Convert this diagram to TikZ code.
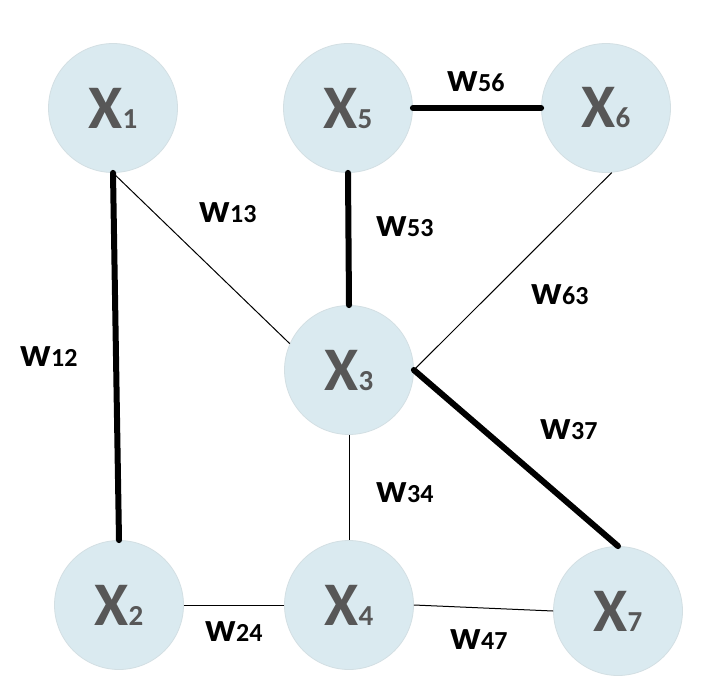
\documentclass[tikz,border=0pt]{standalone}
\usepackage{fontspec}
\setmainfont{Carlito}
\definecolor{nodefill}{HTML}{DAEAF0}
\definecolor{nodeline}{HTML}{D3DFE3}
\definecolor{xtext}{HTML}{575757}
\newcommand{\xlab}[1]{\textbf{{\fontsize{62}{64}\selectfont X}{\fontsize{29}{31}\selectfont #1}}}
\newcommand{\wlab}[1]{\textbf{{\fontsize{41}{43}\selectfont w}{\fontsize{26}{28}\selectfont #1}}}
\begin{document}
\begin{tikzpicture}[x=1pt,y=-1pt,
  vnode/.style={circle,minimum size=129pt,inner sep=0pt,fill=nodefill,draw=nodeline,line width=0.8pt,text=xtext},
  wlabel/.style={inner sep=0pt,text=black},
  thin edge/.style={draw=black,line width=1pt},
  thick edge/.style={draw=black,line width=6pt,line cap=round}]
\useasboundingbox (0,0) rectangle (712,695);
\node[vnode] (x1) at (113,108) {\xlab{1}};
\node[vnode] (x5) at (348,108) {\xlab{5}};
\node[vnode] (x6) at (606,108) {\xlab{6}};
\node[vnode] (x3) at (349,370) {\xlab{3}};
\node[vnode] (x2) at (119,605) {\xlab{2}};
\node[vnode] (x4) at (349,605) {\xlab{4}};
\node[vnode] (x7) at (618,611) {\xlab{7}};
\draw[thick edge] (x1.south) -- (x2.north);
\draw[thin edge] (x1.south) -- (x3.156);
\draw[thick edge] (x5.south) -- (x3.north);
\draw[thick edge] (x5.east) -- (x6.west);
\draw[thin edge] (x6.-85) -- (x3.east);
\draw[thick edge] (x3.east) -- (x7.north);
\draw[thin edge] (x3.south) -- (x4.north);
\draw[thin edge] (x2.east) -- (x4.west);
\draw[thin edge] (x4.east) -- (x7.west);
\node[wlabel] (w13) at (228,213) {\wlab{13}};
\node[wlabel] (w53) at (405,227) {\wlab{53}};
\node[wlabel] (w63) at (560,295) {\wlab{63}};
\node[wlabel] (w12) at (49,357) {\wlab{12}};
\node[wlabel] (w37) at (569,430) {\wlab{37}};
\node[wlabel] (w34) at (405,493) {\wlab{34}};
\node[wlabel] (w24) at (234,632) {\wlab{24}};
\node[wlabel] (w47) at (479,640) {\wlab{47}};
\node[wlabel] (w56) at (476,82) {\wlab{56}};
\end{tikzpicture}
\end{document}
